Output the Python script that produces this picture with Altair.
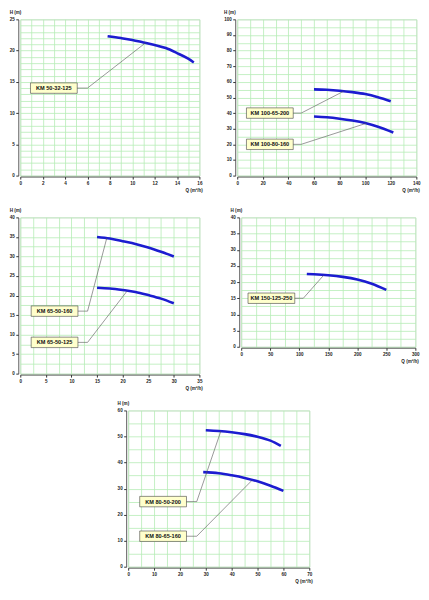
import altair as alt
import pandas as pd

FONT = "Liberation Sans"
GRID = "#b6ecb6"
BLUE = "#1c1cd0"

# ---------------- data ----------------
# Panel 1 (top left)
p1_names = ["KM 50-32-125"]
p1_q = [[7.8, 9, 10, 11, 12, 13, 14, 15, 15.5]]
p1_h = [[22.3, 22.0, 21.7, 21.3, 20.9, 20.4, 19.6, 18.7, 18.1]]
p1_lab_q = [3.0]
p1_lab_h = [14.0]
p1_elbow_q = [6.0]
p1_tgt_q = [11.2]
p1_tgt_h = [21.25]

# Panel 2 (top right)
p2_names = ["KM 100-65-200", "KM 100-80-160"]
p2_q = [[60, 70, 80, 90, 100, 110, 120], [60, 70, 80, 90, 100, 110, 122]]
p2_h = [[55.2, 54.9, 54.3, 53.4, 52.2, 50.2, 47.6], [37.8, 37.3, 36.4, 35.2, 33.6, 31.3, 27.6]]
p2_lab_q = [25.5, 25.5]
p2_lab_h = [40.0, 20.0]
p2_elbow_q = [50.0, 50.0]
p2_tgt_q = [83.0, 101.0]
p2_tgt_h = [53.9, 33.5]

# Panel 3 (middle left)
p3_names = ["KM 65-50-160", "KM 65-50-125"]
p3_q = [[15, 17.5, 20, 22.5, 25, 27.5, 30], [15, 17.5, 20, 22.5, 25, 27.5, 30]]
p3_h = [[35.0, 34.6, 33.9, 33.2, 32.3, 31.2, 30.0], [22.0, 21.8, 21.4, 20.9, 20.1, 19.2, 18.0]]
p3_lab_q = [6.7, 6.7]
p3_lab_h = [16.0, 8.0]
p3_elbow_q = [13.15, 13.15]
p3_tgt_q = [16.9, 20.9]
p3_tgt_h = [34.7, 21.2]

# Panel 4 (middle right)
p4_names = ["KM 150-125-250"]
p4_q = [[113, 125, 150, 175, 200, 225, 250]]
p4_h = [[22.5, 22.4, 22.1, 21.6, 20.8, 19.5, 17.6]]
p4_lab_q = [52.0]
p4_lab_h = [15.0]
p4_elbow_q = [107.0]
p4_tgt_q = [142.0]
p4_tgt_h = [22.1]

# Panel 5 (bottom)
p5_names = ["KM 80-50-200", "KM 80-65-160"]
p5_q = [[30, 35, 40, 45, 50, 55, 59], [29, 35, 40, 45, 50, 55, 60]]
p5_h = [[52.4, 52.1, 51.6, 50.9, 49.9, 48.4, 46.4], [36.3, 35.9, 35.1, 34.1, 32.8, 31.1, 29.1]]
p5_lab_q = [13.5, 13.5]
p5_lab_h = [25.0, 11.7]
p5_elbow_q = [26.5, 26.5]
p5_tgt_q = [35.8, 47.9]
p5_tgt_h = [52.0, 33.2]

LABEL_FS = 4.6


def axis(vmax, minor, major, orient, title, w):
    n = int(round(vmax / minor))
    vals = [round(i * minor, 4) for i in range(n + 1)]
    test = f"abs(datum.value / {major} - round(datum.value / {major})) < 0.001"
    common = dict(
        values=vals,
        grid=True,
        gridColor=GRID,
        gridWidth=0.8,
        labelExpr=f"{test} ? datum.label : ''",
        labelOverlap=False,
        labelFlush=False,
        labelFont=FONT,
        labelFontSize=LABEL_FS,
        labelFontWeight="bold",
        labelColor="#222",
        labelPadding=1.5,
        tickSize=2.5,
        tickColor="#333",
        tickOpacity={"condition": {"test": test, "value": 1}, "value": 0},
        domainColor="#333",
        domainWidth=0.8,
        title=title,
        titleFont=FONT,
        titleFontSize=LABEL_FS,
        titleFontWeight="bold",
        titleColor="#222",
        format="d",
    )
    if orient == "left":
        digits = len(str(int(vmax)))
        common.update(offset=2, titleAngle=0, titleAlign="left", titleBaseline="bottom",
                      titleX=-(4 + digits * 2.6), titleY=-4.5)
    else:
        common.update(offset=1, titleAlign="right", titleAnchor="end", titleX=w + 3,
                      titleY=15.5, titleBaseline="bottom")
    return alt.Axis(**common)


def panel(names, qs, hs, lab_q, lab_h, elb_q, tgt_q, tgt_h,
          xmax, xminor, xmajor, ymax, yminor, ymajor, w, h):
    crow = []
    for n, q, hh in zip(names, qs, hs):
        for i, (a, b) in enumerate(zip(q, hh)):
            crow.append({"pump": n, "Q": a, "H": b, "i": i})
    curves = pd.DataFrame(crow)
    labels = pd.DataFrame({"pump": names, "Q": lab_q, "H": lab_h})
    lrow = []
    for n, lx, ly, ex, tx, ty in zip(names, lab_q, lab_h, elb_q, tgt_q, tgt_h):
        lrow += [
            {"pump": n, "Q": lx, "H": ly, "i": 0},
            {"pump": n, "Q": ex, "H": ly, "i": 1},
            {"pump": n, "Q": tx, "H": ty, "i": 2},
        ]
    leaders = pd.DataFrame(lrow)

    xs = alt.Scale(domain=[0, xmax], nice=False, zero=False)
    ys = alt.Scale(domain=[0, ymax], nice=False, zero=False)
    X = alt.X("Q:Q", scale=xs, axis=axis(xmax, xminor, xmajor, "bottom", "Q (m³/h)", w))
    Y = alt.Y("H:Q", scale=ys, axis=axis(ymax, yminor, ymajor, "left", "H (m)", w))

    lead = alt.Chart(leaders).mark_line(color="#555", strokeWidth=0.6).encode(
        x=X, y=Y, detail="pump:N", order="i:O")
    curve = alt.Chart(curves).mark_line(color=BLUE, strokeWidth=2.6, interpolate="monotone",
                                        strokeCap="butt").encode(
        x=X, y=Y, detail="pump:N", order="i:O")
    box = alt.Chart(labels).mark_rect(width=47, height=10.5, fill="#ffffcc", stroke="#444",
                                      strokeWidth=0.6).encode(x=X, y=Y)
    txt = alt.Chart(labels).mark_text(font=FONT, fontSize=5.6, fontWeight="bold",
                                      color="#111").encode(x=X, y=Y, text="pump:N")
    return alt.layer(curve, lead, box, txt).properties(width=w, height=h)


c1 = panel(p1_names, p1_q, p1_h, p1_lab_q, p1_lab_h, p1_elbow_q, p1_tgt_q, p1_tgt_h,
           16, 1, 2, 25, 1, 5, 180, 157)
c2 = panel(p2_names, p2_q, p2_h, p2_lab_q, p2_lab_h, p2_elbow_q, p2_tgt_q, p2_tgt_h,
           140, 10, 20, 100, 5, 10, 180, 157)
c3 = panel(p3_names, p3_q, p3_h, p3_lab_q, p3_lab_h, p3_elbow_q, p3_tgt_q, p3_tgt_h,
           35, 2.5, 5, 40, 2.5, 5, 180, 157)
c4 = panel(p4_names, p4_q, p4_h, p4_lab_q, p4_lab_h, p4_elbow_q, p4_tgt_q, p4_tgt_h,
           300, 25, 50, 40, 2.5, 5, 175, 130)
c5 = panel(p5_names, p5_q, p5_h, p5_lab_q, p5_lab_h, p5_elbow_q, p5_tgt_q, p5_tgt_h,
           70, 5, 10, 60, 5, 10, 182, 157)

row1 = alt.hconcat(c1, c2, spacing=19)
row2 = alt.hconcat(c3, c4, spacing=26)
top = alt.vconcat(row1, row2, spacing=15)
chart = alt.vconcat(top, c5, spacing=10, center=True).properties(
    padding=0
).configure_view(stroke=GRID, strokeWidth=1).configure(background="white")

chart.save("out.html", embed_options={"renderer": "svg", "actions": False})
